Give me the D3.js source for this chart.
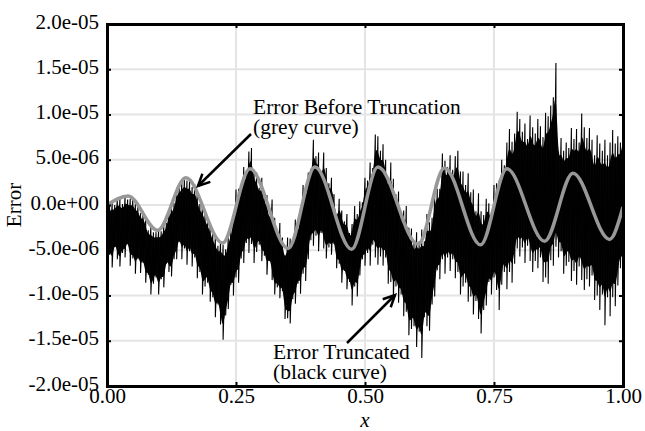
<!DOCTYPE html>
<html><head><meta charset="utf-8">
<script src="https://cdn.jsdelivr.net/npm/d3@7"></script>
<style>body{margin:0;background:#fff}svg text{font-family:"Liberation Serif","Times New Roman",serif !important;fill:#000}</style>
</head><body><svg id="c" width="645" height="431"></svg>
<script>
// ---- data (y values in units of 1e-6) ----
const xTicks = [0, 0.25, 0.5, 0.75, 1];
const xTickLabels = ["0.00", "0.25", "0.50", "0.75", "1.00"];
const yTicks = [20, 15, 10, 5, 0, -5, -10, -15, -20];
const yTickLabels = ["2.0e-05", "1.5e-05", "1.0e-05", "5.0e-06", "0.0e+00", "-5.0e-06", "-1.0e-05", "-1.5e-05", "-2.0e-05"];

// Error Before Truncation (grey curve): extrema
const greyX = [0, 0.041, 0.098, 0.153, 0.224, 0.277, 0.351, 0.403, 0.474, 0.525, 0.603, 0.654, 0.724, 0.775, 0.848, 0.903, 0.974, 1.0];
const greyY = [0, 1.0, -2.8, 3.0, -4.2, 4.0, -4.8, 4.2, -4.9, 4.2, -4.35, 4.1, -4.4, 4.0, -4.0, 3.5, -3.8, -0.2];

// Error Truncated (black curve): sampled every 0.005 in x, upper and lower swing of the noise
const blackStep = 0.005;
const blackHi = [
 0.0,-0.1, 0.3, 0.0, 0.8, 0.7, 0.1, 1.0, 0.6, 0.7,
 0.8, 0.2, 0.1,-0.9,-0.7,-1.6,-2.8,-2.4,-3.0,-3.0,
-2.8,-2.9,-2.2,-2.0,-0.5, 0.1, 0.2, 1.9, 2.1, 2.6,
 3.0, 2.7, 2.8, 2.0, 2.3, 1.5, 0.1, 0.3,-0.9,-1.5,
-2.1,-3.1,-3.5,-4.5,-4.0,-4.4,-4.9,-3.4,-2.8,-1.2,
 1.7, 1.8, 2.0, 4.2, 3.5, 5.9, 6.3, 3.8, 3.6, 1.9,
 3.0, 0.9, 1.1,-1.3, 0.6,-1.4,-2.9,-2.0,-3.6,-5.5,
-3.6,-3.7,-3.7,-1.6,-2.5,-0.3, 2.2, 1.8, 3.6, 4.0,
 7.2, 5.4, 5.8, 3.7, 5.8, 4.1, 2.4, 3.0, 1.2,-1.0,
 0.7,-0.6,-1.8,-1.0,-3.1,-2.1,-0.1,-1.0, 0.4, 0.3,
 3.0, 2.7, 4.7, 4.1, 7.8, 7.6, 6.0, 6.7, 5.0, 2.9,
 4.7, 2.9, 1.2, 1.5,-1.1,-0.6,-0.1,-2.5,-2.6,-4.2,
-3.0,-4.0,-2.7,-4.0,-1.0,-1.9,-1.4, 1.4, 1.8, 1.8,
 5.7, 4.9, 4.2, 5.5, 3.9, 5.4, 6.0, 3.7, 3.7, 2.2,
 3.5, 1.4, 1.7,-0.7, 1.3,-0.7,-1.1, 0.7, 0.2,-0.8,
 2.2, 2.4, 2.7, 5.0, 4.4, 6.9, 8.4, 7.0, 7.9,10.3,
 9.5, 8.1, 9.0, 7.3, 9.9, 8.6, 7.9, 9.5, 8.7, 7.5,
10.2, 9.8,11.0,11.9,15.7, 5.9, 7.4, 6.0, 6.9, 6.3,
 8.5, 7.3, 8.4, 6.9,10.1, 8.6, 7.4, 8.5, 7.2, 5.5,
 7.7, 6.8, 6.0, 7.2, 5.5, 6.9, 8.3, 6.8, 7.6, 6.9,
 9.0];
const blackLo = [
-6.9,-5.5,-6.9,-4.6,-6.0,-6.8,-5.3,-5.8,-4.3,-6.7,
-5.9,-7.6,-6.0,-7.5,-6.4,-8.6,-7.7,-9.9,-8.7,-8.0,
-9.9,-8.2,-9.1,-6.5,-7.4,-7.9,-6.0,-6.0,-4.1,-6.0,
-4.8,-6.6,-5.1,-6.8,-5.8,-8.1,-7.4,-9.9,-9.0,-8.6,
-10.7,-10.2,-12.4,-11.0,-13.2,-14.9,-12.2,-11.5,-8.8,-10.0,
-8.0,-8.6,-5.9,-6.4,-4.2,-5.3,-4.3,-6.4,-5.2,-4.4,
-6.2,-5.6,-7.7,-6.2,-8.3,-9.9,-9.1,-10.3,-9.5,-12.6,
-12.5,-13.1,-10.4,-10.9,-8.7,-9.8,-7.6,-8.4,-6.0,-3.9,
-4.5,-3.4,-5.1,-3.1,-4.8,-5.9,-4.7,-5.5,-4.3,-7.0,
-6.5,-8.6,-7.3,-9.3,-8.5,-11.1,-9.0,-10.1,-7.8,-6.0,
-6.7,-5.3,-6.7,-4.4,-5.8,-6.6,-5.7,-6.7,-5.8,-8.7,
-8.5,-10.4,-9.0,-10.8,-9.9,-12.3,-11.8,-14.4,-13.7,-13.4,
-15.7,-14.0,-16.9,-12.4,-13.4,-13.9,-11.0,-10.1,-7.2,-8.2,
-6.0,-7.6,-5.8,-7.3,-6.0,-8.1,-7.4,-9.9,-9.0,-8.6,
-10.7,-10.1,-12.1,-10.6,-12.6,-14.2,-11.6,-11.1,-8.5,-9.9,
-8.0,-9.4,-11.6,-8.8,-7.4,-9.3,-7.4,-8.6,-6.5,-4.8,
-5.7,-4.7,-6.4,-4.5,-6.2,-7.4,-6.2,-7.0,-5.8,-8.5,
-8.0,-8.7,-6.1,-6.7,-4.6,-5.8,-5.1,-7.6,-6.7,-6.3,
-8.4,-7.3,-8.8,-6.8,-8.3,-9.4,-8.2,-9.0,-7.8,-10.5,
-10.0,-11.6,-9.9,-13.3,-10.2,-12.3,-10.2,-11.2,-8.9,-7.0,
-7.7];

const yLabel = "Error";
const xLabel = "x";
const noteGrey = ["Error Before Truncation", "(grey curve)"];
const noteBlack = ["Error Truncated", "(black curve)"];

// ---- drawing ----
const FONT = '"Liberation Serif", "Times New Roman", serif';
const svg = d3.select("#c");
const W = 645, H = 431;
const m = {l: 107, r: 22, t: 24, b: 45};
const x = d3.scaleLinear().domain([0, 1]).range([m.l, W - m.r]);
const y = d3.scaleLinear().domain([-20, 20]).range([H - m.b, m.t]);

svg.append("defs").append("clipPath").attr("id", "clip")
  .append("rect").attr("x", m.l).attr("y", m.t).attr("width", W - m.l - m.r).attr("height", H - m.t - m.b);

// grid
const grid = svg.append("g");
grid.selectAll(".gx").data(xTicks).join("line")
  .attr("x1", d => x(d)).attr("x2", d => x(d)).attr("y1", m.t).attr("y2", H - m.b)
  .attr("stroke", "#e4e4e4").attr("stroke-width", 2);
grid.selectAll(".gy").data(yTicks).join("line")
  .attr("y1", d => y(d)).attr("y2", d => y(d)).attr("x1", m.l).attr("x2", W - m.r)
  .attr("stroke", "#e4e4e4").attr("stroke-width", 2);

const plot = svg.append("g").attr("clip-path", "url(#clip)");

// black curve: dense core (inset from the swing extremes) + vertical noise strokes
const black = blackHi.map((v, i) => ({x: i * blackStep, hi: v, lo: blackLo[i]}));
const inset = 0.11;
const core = d3.area().x(d => x(d.x))
  .y0(d => y(d.lo + inset * (d.hi - d.lo)))
  .y1(d => y(d.hi - inset * (d.hi - d.lo)))
  .curve(d3.curveBasis);
plot.append("path").datum(black).attr("d", core).attr("fill", "#060606");
const pts = [];
black.forEach(d => { pts.push([d.x, d.hi]); pts.push([d.x, d.lo]); });
const line = d3.line().x(d => x(d[0])).y(d => y(d[1]));
plot.append("path").datum(pts).attr("d", line)
  .attr("fill", "none").attr("stroke", "#000").attr("stroke-width", 1.1).attr("stroke-linejoin", "bevel");

// grey curve
const greyLine = d3.line().x(d => x(d[0])).y(d => y(d[1])).curve(d3.curveMonotoneX);
plot.append("path").datum(greyX.map((d, i) => [d, greyY[i]])).attr("d", greyLine)
  .attr("fill", "none").attr("stroke", "#989898").attr("stroke-width", 3.5);

// axes with inward ticks
const fs = 21;
const axB = d3.axisBottom(x).tickValues(xTicks).tickFormat((d, i) => xTickLabels[i]).tickSize(-4).tickPadding(1);
const axT = d3.axisTop(x).tickValues(xTicks).tickFormat("").tickSize(-4);
const axL = d3.axisLeft(y).tickValues(yTicks).tickFormat((d, i) => yTickLabels[i]).tickSize(-4).tickPadding(8);
const axR = d3.axisRight(y).tickValues(yTicks).tickFormat("").tickSize(-4);
function style(g) {
  g.attr("font-family", null).attr("font-size", null);
  g.select(".domain").attr("stroke", "#000").attr("stroke-width", 3).attr("stroke-linecap", "square");
  g.selectAll(".tick line").attr("stroke", "#000").attr("stroke-width", 2);
  g.selectAll(".tick text").attr("font-size", fs).style("font-family", FONT);
}
svg.append("g").attr("transform", `translate(0,${H - m.b})`).call(axB).call(style)
  .selectAll(".tick text").attr("dy", "0.78em");
svg.append("g").attr("transform", `translate(0,${m.t})`).call(axT).call(style);
svg.append("g").attr("transform", `translate(${m.l},0)`).call(axL).call(style)
  .selectAll(".tick text").attr("dy", "0.2em");
svg.append("g").attr("transform", `translate(${W - m.r},0)`).call(axR).call(style);

// axis titles
svg.append("text").attr("transform", "translate(21,205) rotate(-90)")
  .attr("text-anchor", "middle").attr("font-size", fs).style("font-family", FONT).text(yLabel);
svg.append("text").attr("x", x(0.5)).attr("y", 426.5).attr("text-anchor", "middle")
  .attr("font-size", fs).attr("font-style", "italic").style("font-family", FONT).text(xLabel);

// annotations
function note(lines, x0, y0) {
  const t = svg.append("text").attr("font-size", 21.5).style("font-family", FONT);
  lines.forEach((s, i) => t.append("tspan").attr("x", x0).attr("y", y0 + i * 20).text(s));
}
note(noteGrey, 253, 113.5);
note(noteBlack, 273, 359);

function arrow(x1, y1, x2, y2) {
  const g = svg.append("g").attr("stroke", "#000").attr("stroke-width", 2.5).attr("fill", "none");
  g.append("line").attr("x1", x1).attr("y1", y1).attr("x2", x2).attr("y2", y2);
  const a = Math.atan2(y2 - y1, x2 - x1), L = 13, s = 0.45;
  const p = [[x2 - L * Math.cos(a - s), y2 - L * Math.sin(a - s)], [x2, y2], [x2 - L * Math.cos(a + s), y2 - L * Math.sin(a + s)]];
  g.append("path").attr("d", d3.line()(p)).attr("stroke-linejoin", "miter");
}
arrow(251, 134, 198, 186);
arrow(347, 343, 395, 295);
</script></body></html>
